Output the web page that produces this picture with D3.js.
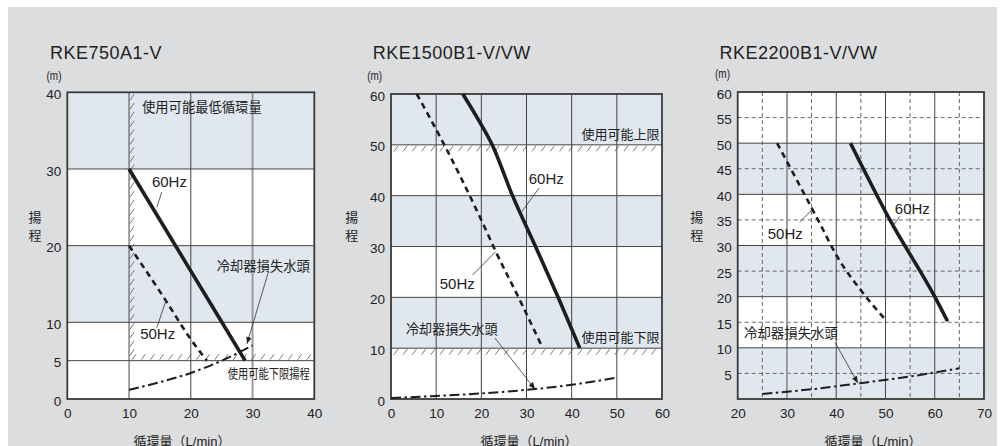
<!DOCTYPE html>
<html>
<head>
<meta charset="utf-8">
<script src="https://cdn.jsdelivr.net/npm/d3@7"></script>
<style>
  body { margin: 0; background: #fff; }
  svg { display: block; font-family: "Liberation Sans", "Noto Sans CJK JP", sans-serif; }
</style>
</head>
<body>
<svg id="chart" width="1002" height="446"></svg>
<script>
// ---------- data ----------
const titles = ['RKE750A1-V', 'RKE1500B1-V/VW', 'RKE2200B1-V/VW'];
const yTitle = ['揚', '程'];
const xTitle = '循環量（L/min）';
const unitText = '(m)';

// RKE750A1-V
const p1XTicks = [0, 10, 20, 30, 40];
const p1YTicks = [0, 5, 10, 20, 30, 40];
const p1Bands = [[10, 20], [30, 40]];
const p1Flow60 = [10, 19.4, 28.8];
const p1Head60 = [30, 17.5, 5];
const p1Flow50 = [10, 15.9, 19.9, 22.6];
const p1Head50 = [20, 12.9, 7.9, 5];
const p1FlowLoss = [10, 15, 20, 25, 30];
const p1HeadLoss = [1.2, 2.2, 3.4, 5.0, 7.0];

// RKE1500B1-V/VW
const p2XTicks = [0, 10, 20, 30, 40, 50, 60];
const p2YTicks = [0, 10, 20, 30, 40, 50, 60];
const p2Bands = [[10, 20], [30, 40], [50, 60]];
const p2Flow60 = [15.9, 19.3, 22.4, 26.9, 32, 37, 41.8];
const p2Head60 = [60, 55, 50, 40, 30, 20, 10];
const p2Flow50 = [5.7, 11.8, 20.1, 23.2, 28.5, 33.6];
const p2Head50 = [60, 50, 35, 29, 19.5, 10];
const p2FlowLoss = [0, 10, 20, 30, 40, 50];
const p2HeadLoss = [0.2, 0.6, 1.1, 1.8, 2.8, 4.2];

// RKE2200B1-V/VW
const p3XTicks = [20, 30, 40, 50, 60, 70];
const p3YTicks = [5, 10, 15, 20, 25, 30, 35, 40, 45, 50, 55, 60];
const p3Bands = [[0, 10], [20, 30], [40, 50]];
const p3Flow60 = [42.9, 50.9, 60, 62.6];
const p3Head60 = [50, 35, 20, 15.2];
const p3Flow50 = [28, 36.3, 40.4, 45.2, 49.7];
const p3Head50 = [50, 35, 27.5, 21, 15.8];
const p3FlowLoss = [25, 35, 45, 55, 65];
const p3HeadLoss = [1, 1.9, 3.1, 4.4, 6];

// ---------- layout ----------
const panels = [
  {
    title: titles[0], box: { l: 67.3, r: 314.3, t: 92.3, b: 399 },
    xDomain: [0, 40], yDomain: [0, 40], xTicks: p1XTicks, yTicks: p1YTicks, bands: p1Bands,
    vSolid: [10, 20], vGray: [30], vDash: [], hSolid: [5, 10, 20, 30], hDash: [],
    s60: [p1Flow60, p1Head60], s50: [p1Flow50, p1Head50], loss: [p1FlowLoss, p1HeadLoss],
    hatchH: [{ y: 5, x0: 10, x1: 40, side: -1 }],
    hatchV: [{ x: 10, y0: 5, y1: 40 }],
    labels: [
      { t: '使用可能最低循環量', x: 12.1, y: 38.1, size: 13.3 },
      { t: '60Hz', x: 13.7, y: 28.3, size: 15 },
      { t: '冷却器損失水頭', x: 24.2, y: 17.3, size: 13.3 },
      { t: '50Hz', x: 11.8, y: 8.5, size: 15 },
      { t: '使用可能下限揚程', x: 26.0, y: 3.4, size: 13, len: 82 }
    ],
    leaders: [
      { a: [15.3, 27.0], b: [14.5, 25.0] },
      { a: [14.5, 9.3], b: [16.0, 12.9] },
      { a: [32.5, 16.4], b: [29.1, 7.2], arrow: true }
    ],
    yTitleX: 35, unitX: 54, unitY: 75.5, xTitleX: 182
  },
  {
    title: titles[1], box: { l: 391, r: 662, t: 94, b: 399 },
    xDomain: [0, 60], yDomain: [0, 60], xTicks: p2XTicks, yTicks: p2YTicks, bands: p2Bands,
    vSolid: [10, 20, 30, 40, 50], vGray: [], vDash: [], hSolid: [10, 20, 30, 40, 50], hDash: [],
    s60: [p2Flow60, p2Head60], s50: [p2Flow50, p2Head50], loss: [p2FlowLoss, p2HeadLoss],
    hatchH: [{ y: 50, x0: 0, x1: 60, side: 1 }, { y: 10, x0: 0, x1: 60, side: 1 }],
    hatchV: [],
    labels: [
      { t: '使用可能上限', x: 42.2, y: 52.1, size: 13 },
      { t: '60Hz', x: 30.5, y: 43.3, size: 15 },
      { t: '50Hz', x: 10.8, y: 22.8, size: 15 },
      { t: '冷却器損失水頭', x: 3.3, y: 13.8, size: 13.1 },
      { t: '使用可能下限', x: 42.2, y: 12.1, size: 13 }
    ],
    leaders: [
      { a: [32.8, 41.5], b: [28.9, 36.8] },
      { a: [18.1, 24.4], b: [23.2, 29.0] },
      { a: [23.0, 12.0], b: [31.9, 1.9], arrow: true }
    ],
    yTitleX: 351.7, unitX: 374.7, unitY: 76, xTitleX: 529
  },
  {
    title: titles[2], box: { l: 737.7, r: 984, t: 92, b: 399 },
    xDomain: [20, 70], yDomain: [0, 60], xTicks: p3XTicks, yTicks: p3YTicks, bands: p3Bands,
    vSolid: [40, 50, 60], vGray: [30], vDash: [25, 35, 45, 55, 65],
    hSolid: [10, 20, 30, 40, 50], hDash: [5, 15, 25, 35, 45, 55],
    s60: [p3Flow60, p3Head60], s50: [p3Flow50, p3Head50], loss: [p3FlowLoss, p3HeadLoss],
    hatchH: [], hatchV: [],
    labels: [
      { t: '60Hz', x: 51.9, y: 37.3, size: 15 },
      { t: '50Hz', x: 26.1, y: 32.4, size: 15 },
      { t: '冷却器損失水頭', x: 21.3, y: 12.8, size: 13.4 }
    ],
    leaders: [
      { a: [52.9, 35.7], b: [51.5, 33.8] },
      { a: [32.6, 34.6], b: [35.0, 36.9] },
      { a: [39.8, 11.0], b: [44.4, 3.1], arrow: true }
    ],
    yTitleX: 696.7, unitX: 722.5, unitY: 74, xTitleX: 873
  }
];

const svg = d3.select('#chart');

/* background */
svg.append('rect')
  .attr('x', 8).attr('y', 7)
  .attr('width', 989).attr('height', 439)
  .attr('fill', '#dcdddf');

/* arrow marker */
svg.append('defs').append('marker')
  .attr('id', 'arrow')
  .attr('viewBox', '0 0 10 10')
  .attr('refX', 10).attr('refY', 5)
  .attr('markerWidth', 7).attr('markerHeight', 7)
  .attr('markerUnits', 'userSpaceOnUse')
  .attr('orient', 'auto')
  .append('path')
  .attr('d', 'M0,1 L10,5 L0,9 Z')
  .attr('fill', '#222');

panels.forEach(p => {
  const { l, r, t, b } = p.box;
  const x = d3.scaleLinear().domain(p.xDomain).range([l, r]);
  const y = d3.scaleLinear().domain(p.yDomain).range([b, t]);
  const g = svg.append('g');

  /* plot background + bands */
  g.append('rect')
    .attr('x', l).attr('y', t)
    .attr('width', r - l).attr('height', b - t)
    .attr('fill', '#fff');
  g.selectAll('rect.band')
    .data(p.bands).enter()
    .append('rect')
    .attr('class', 'band')
    .attr('x', l)
    .attr('y', d => y(d[1]))
    .attr('width', r - l)
    .attr('height', d => y(d[0]) - y(d[1]))
    .attr('fill', '#e0e7ef');

  /* grid */
  const vline = (vals, stroke, w, dash) => g.selectAll(null)
    .data(vals).enter().append('line')
    .attr('x1', d => x(d)).attr('x2', d => x(d))
    .attr('y1', t).attr('y2', b)
    .attr('stroke', stroke).attr('stroke-width', w)
    .attr('stroke-dasharray', dash);
  const hline = (vals, stroke, w, dash) => g.selectAll(null)
    .data(vals).enter().append('line')
    .attr('y1', d => y(d)).attr('y2', d => y(d))
    .attr('x1', l).attr('x2', r)
    .attr('stroke', stroke).attr('stroke-width', w)
    .attr('stroke-dasharray', dash);
  vline(p.vDash, '#555', 0.9, '4,3');
  hline(p.hDash, '#555', 0.9, '4,3');
  vline(p.vGray, '#9a9a9a', 2, null);
  vline(p.vSolid, '#444', 1, null);
  hline(p.hSolid, '#444', 1, null);

  /* hatching */
  p.hatchH.forEach(h => {
    const yy = y(h.y);
    const xs = d3.range(x(h.x0) + 3, x(h.x1) - 3, 9.2);
    g.selectAll(null).data(xs).enter().append('line')
      .attr('x1', d => d).attr('x2', d => d + 4)
      .attr('y1', h.side > 0 ? yy + 6.5 : yy - 1)
      .attr('y2', h.side > 0 ? yy + 1 : yy - 6.5)
      .attr('stroke', '#555').attr('stroke-width', 0.8);
  });
  p.hatchV.forEach(h => {
    const xx = x(h.x);
    const ys = d3.range(y(h.y1) + 8, y(h.y0) - 2, 8.8);
    g.selectAll(null).data(ys).enter().append('line')
      .attr('x1', xx + 1).attr('x2', xx + 5)
      .attr('y1', d => d).attr('y2', d => d - 6)
      .attr('stroke', '#555').attr('stroke-width', 0.8);
  });

  /* frame */
  g.append('rect')
    .attr('x', l).attr('y', t)
    .attr('width', r - l).attr('height', b - t)
    .attr('fill', 'none')
    .attr('stroke', '#3a3a3a').attr('stroke-width', 1.8);

  /* curves */
  const line = d3.line()
    .x(d => x(d[0])).y(d => y(d[1]))
    .curve(d3.curveMonotoneX);
  const pts = s => s[0].map((v, i) => [v, s[1][i]]);
  g.append('path').datum(pts(p.loss))
    .attr('d', line).attr('fill', 'none')
    .attr('stroke', '#1e1e1e').attr('stroke-width', 2)
    .attr('stroke-dasharray', '10,3.5,2.5,3.5');
  g.append('path').datum(pts(p.s50))
    .attr('d', line).attr('fill', 'none')
    .attr('stroke', '#1e1e1e').attr('stroke-width', 2.6)
    .attr('stroke-dasharray', '6,4.5');
  g.append('path').datum(pts(p.s60))
    .attr('d', line).attr('fill', 'none')
    .attr('stroke', '#1e1e1e').attr('stroke-width', 3.6);

  /* leaders */
  g.selectAll(null).data(p.leaders).enter().append('line')
    .attr('x1', d => x(d.a[0])).attr('y1', d => y(d.a[1]))
    .attr('x2', d => x(d.b[0])).attr('y2', d => y(d.b[1]))
    .attr('stroke', '#333').attr('stroke-width', 0.8)
    .attr('marker-end', d => d.arrow ? 'url(#arrow)' : null);

  /* labels */
  g.selectAll(null).data(p.labels).enter().append('text')
    .attr('x', d => x(d.x)).attr('y', d => y(d.y))
    .attr('dy', '0.36em')
    .attr('font-size', d => d.size)
    .attr('fill', '#222')
    .attr('textLength', d => d.len || null)
    .attr('lengthAdjust', d => d.len ? 'spacingAndGlyphs' : null)
    .text(d => d.t);

  /* axes (labels only) */
  const xAxis = d3.axisBottom(x).tickValues(p.xTicks).tickSize(0).tickPadding(9);
  const yAxis = d3.axisLeft(y).tickValues(p.yTicks).tickSize(0).tickPadding(6);
  const gx = g.append('g').attr('transform', `translate(0,${b})`).call(xAxis);
  const gy = g.append('g').attr('transform', `translate(${l},0)`).call(yAxis);
  [gx, gy].forEach(a => {
    a.select('.domain').remove();
    a.selectAll('text')
      .attr('font-family', '"Liberation Sans", sans-serif')
      .attr('font-size', 13.5).attr('fill', '#222');
  });
  gy.selectAll('text').attr('dy', '0.45em');

  /* titles */
  g.append('text')
    .attr('x', l - (p === panels[0] ? 17.3 : 18.3)).attr('y', 58.5)
    .attr('font-size', 18).attr('letter-spacing', 0.5)
    .attr('fill', '#222')
    .text(p.title);
  g.append('text')
    .attr('x', p.unitX).attr('y', p.unitY).attr('dy', '0.35em')
    .attr('text-anchor', 'middle')
    .attr('font-size', 12.5).attr('fill', '#222')
    .attr('textLength', 15).attr('lengthAdjust', 'spacingAndGlyphs')
    .text(unitText);
  g.selectAll(null).data(yTitle).enter().append('text')
    .attr('x', p.yTitleX).attr('y', (d, i) => 217 + i * 18)
    .attr('dy', '0.38em')
    .attr('text-anchor', 'middle')
    .attr('font-size', 13).attr('fill', '#222')
    .text(d => d);
  g.append('text')
    .attr('x', p.xTitleX).attr('y', 446)
    .attr('text-anchor', 'middle')
    .attr('font-size', 13).attr('fill', '#222')
    .text(xTitle);
});
</script>
</body>
</html>
